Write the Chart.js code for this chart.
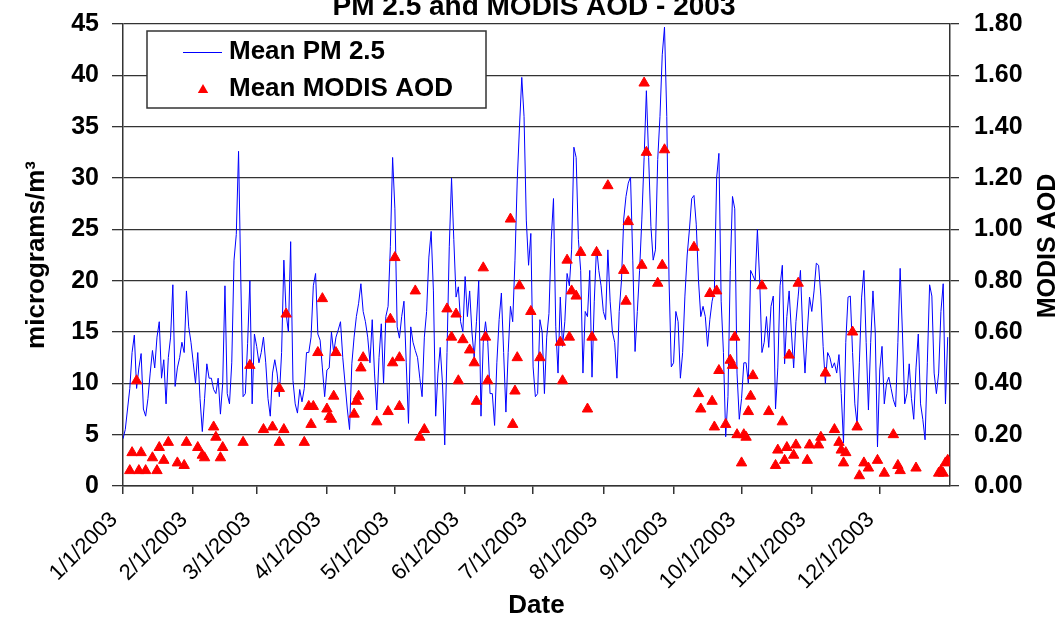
<!DOCTYPE html>
<html>
<head>
<meta charset="utf-8">
<title>PM 2.5 and MODIS AOD - 2003</title>
<script src="https://cdn.jsdelivr.net/npm/chart.js@4.4.0/dist/chart.umd.min.js"></script>
<style>
  html, body { margin: 0; padding: 0; background: #fff; }
  canvas { display: block; }
</style>
</head>
<body>
<canvas id="chart" width="1060" height="619"></canvas>
<script>
// Texts
const chartTitle = 'PM 2.5 and MODIS AOD - 2003';
const leftAxisTitle = 'micrograms/m\u00B3';
const rightAxisTitle = 'MODIS AOD';
const xAxisTitle = 'Date';
const pmLabel = 'Mean PM 2.5';
const aodLabel = 'Mean MODIS AOD';

// X axis: day of year (0 = 1/1/2003), ticks on the first of each month
const monthStarts = [0, 31, 59, 90, 120, 151, 181, 212, 243, 273, 304, 334];
const tickLabels = ['1/1/2003', '2/1/2003', '3/1/2003', '4/1/2003', '5/1/2003', '6/1/2003',
  '7/1/2003', '8/1/2003', '9/1/2003', '10/1/2003', '11/1/2003', '12/1/2003'];

// Daily mean PM 2.5 (micrograms/m3), one value per day from 1/1/2003
const pm25 = [
  4.6, 5.5, 7.5, 9.5, 13, 14.7, 9.5, 11.5, 12.9, 7.5,
  6.8, 8.5, 11, 13.2, 11.5, 14.5, 16, 10.5, 12.3, 8,
  12.5, 14.5, 19.6, 9.7, 11.5, 12.5, 14, 13, 19, 15.5,
  14, 12, 10, 13, 8.5, 5.3, 8.5, 11.9, 10.5, 10.5,
  9.4, 9, 10.5, 7, 10, 19.5, 9, 8, 12, 22,
  24.5, 32.6, 20, 8.7, 9, 13.9, 20, 8, 14.8, 13.6,
  12, 13, 14.5, 12, 8.5, 6.8, 11, 12.3, 11, 8.7,
  13, 22, 16.8, 15, 23.8, 10.3, 8, 7.1, 9.4, 8.2,
  9.5, 13, 13, 14.5, 19.5, 20.7, 14.8, 14.2, 11.5, 8.7,
  11.3, 11.5, 15, 13, 14.5, 15.2, 16, 12.5, 10, 7.5,
  5.5, 11.9, 14.5, 16.5, 17.8, 19.7, 17, 16, 14.5, 12,
  16.2, 11, 7.4, 12.5, 15.8, 10, 16.5, 17.5, 23.3, 32,
  27, 15.5, 14.4, 16.5, 18, 12, 6.1, 15.5, 14, 13.2,
  12.5, 10.5, 8.7, 14.5, 17, 22.3, 24.8, 19, 6.8, 11,
  13.5, 10, 4, 13, 23.3, 30, 24, 18.4, 19.4, 16,
  15, 20.4, 16.5, 19, 15, 12.5, 16, 20, 6.8, 14,
  16, 14, 9, 9, 5.9, 12, 16.2, 18.8, 13, 7.2,
  13, 17.5, 16, 22, 29.8, 35, 39.8, 36, 25.9, 21.5,
  24.6, 11.6, 8.7, 9, 16.2, 15, 9, 14.5, 16.8, 24,
  28, 15.5, 11, 18.4, 13.6, 16, 20.7, 19.5, 23, 33,
  32, 24, 21, 11, 17, 16.5, 21, 10.6, 18, 23.3,
  21, 19.5, 17, 16.2, 23, 18, 15, 14, 10.5, 17,
  20, 26, 28.2, 29.5, 30.1, 22, 13.1, 17, 21, 26,
  32, 38.5, 32, 25.3, 22, 23, 31.8, 36, 42, 44.7,
  36, 20, 11.6, 12, 17, 16, 10.5, 13, 18.5, 22.5,
  25, 28, 28.3, 25.5, 20, 16.5, 17.5, 16.5, 13.6, 16.2,
  18, 19, 30, 32.4, 18, 13, 4.8, 8.7, 21, 28.2,
  27, 11, 6.5, 8.5, 12, 12, 10, 21, 20.5, 20,
  25, 20, 13, 14, 16.5, 13.5, 17.5, 18.5, 7.5, 11.5,
  19.5, 21.5, 11.9, 16.5, 19, 15, 11.5, 16, 18.5, 21,
  15, 11, 15, 18.4, 17, 19, 21.7, 21.5, 18.5, 13.6,
  10, 13, 12.5, 11.5, 12, 11, 12.8, 9, 4.2, 14,
  18.4, 18.5, 13, 8, 6, 12, 18.4, 21, 14, 7.4,
  14, 19, 15, 3.8, 11.3, 13.6, 8, 10, 10.6, 9.5,
  8.4, 7.7, 14, 21.2, 15, 8, 9, 11.9, 8.5, 6.5,
  11.5, 14.8, 8, 6.5, 4.5, 12, 19.6, 18.5, 11, 9,
  11, 17, 19.7, 8, 14.5
];

// Mean MODIS AOD: day of year of each retrieval and its value
const aodDays = [
  3, 4, 6, 7, 8, 10, 13, 15, 16, 18,
  20, 24, 27, 28, 33, 35, 36, 40, 41, 43,
  44, 53, 56, 62, 66, 69, 69, 71, 72, 80,
  82, 83, 84, 86, 88, 90, 91, 92, 93, 94,
  102, 103, 104, 105, 106, 112, 117, 118, 119, 120,
  122, 122, 129, 131, 133, 143, 145, 147, 148, 150,
  153, 155, 156, 159, 160, 161, 171, 172, 173, 174,
  175, 180, 184, 193, 194, 196, 197, 198, 200, 202,
  205, 207, 209, 214, 221, 222, 223, 229, 230, 231,
  236, 238, 239, 252, 254, 255, 259, 260, 261, 262,
  263, 266, 268, 269, 270, 271, 273, 274, 275, 276,
  277, 278, 282, 285, 288, 289, 291, 292, 293, 294,
  296, 297, 298, 302, 303, 307, 308, 310, 314, 316,
  317, 318, 319, 322, 324, 325, 327, 329, 333, 336,
  340, 342, 343, 350, 360, 361, 362, 363, 364
];
const aodValues = [
  0.06, 0.13, 0.41, 0.06, 0.13, 0.06, 0.11, 0.06, 0.15, 0.10,
  0.17, 0.09, 0.08, 0.17, 0.15, 0.12, 0.11, 0.23, 0.19, 0.11,
  0.15, 0.17, 0.47, 0.22, 0.23, 0.38, 0.17, 0.22, 0.67, 0.17,
  0.31, 0.24, 0.31, 0.52, 0.73, 0.30, 0.27, 0.26, 0.35, 0.52,
  0.28, 0.33, 0.35, 0.46, 0.50, 0.25, 0.29, 0.65, 0.48, 0.89,
  0.50, 0.31, 0.76, 0.19, 0.22, 0.69, 0.58, 0.67, 0.41, 0.57,
  0.53, 0.48, 0.33, 0.85, 0.58, 0.41, 1.04, 0.24, 0.37, 0.50,
  0.78, 0.68, 0.50, 0.56, 0.41, 0.88, 0.58, 0.76, 0.74, 0.91,
  0.30, 0.58, 0.91, 1.17, 0.84, 0.72, 1.03, 0.86, 1.57, 1.30,
  0.79, 0.86, 1.31, 0.93, 0.36, 0.30, 0.75, 0.33, 0.23, 0.76,
  0.45, 0.24, 0.49, 0.47, 0.58, 0.20, 0.09, 0.20, 0.19, 0.29,
  0.35, 0.43, 0.78, 0.29, 0.08, 0.14, 0.25, 0.10, 0.15, 0.51,
  0.12, 0.16, 0.79, 0.10, 0.16, 0.16, 0.19, 0.44, 0.22, 0.17,
  0.14, 0.09, 0.13, 0.60, 0.23, 0.04, 0.09, 0.07, 0.10, 0.05,
  0.20, 0.08, 0.06, 0.07, 0.05, 0.06, 0.05, 0.09, 0.10
];

const FONT = '"Liberation Sans", Arial, Helvetica, sans-serif';
const AXIS_COLOR = '#333333';
const PM_COLOR = '#0000ff';
const AOD_COLOR = '#ff0000';

Chart.defaults.font.family = FONT;
Chart.defaults.color = '#000000';

// keep the plot box where the source has it: no extra room for tick labels
function noScalePadding(axis) {
  axis.paddingTop = 0;
  axis.paddingBottom = 0;
  axis.paddingLeft = 0;
  axis.paddingRight = 0;
}

// Title, right axis title and the boxed legend are drawn by hand
const decorations = {
  id: 'decorations',
  afterDatasetsDraw(chart) {
    const ctx = chart.ctx;
    const area = chart.chartArea;
    ctx.save();
    ctx.fillStyle = '#000000';

    // title, cut at the top edge like the source image
    ctx.font = 'bold 28px ' + FONT;
    ctx.textAlign = 'center';
    ctx.textBaseline = 'alphabetic';
    ctx.fillText(chartTitle, 534, 15);

    // right axis title, reading bottom to top
    ctx.save();
    ctx.translate(1048, (area.top + area.bottom) / 2 - 9);
    ctx.rotate(-Math.PI / 2);
    ctx.font = 'bold 25px ' + FONT;
    ctx.textAlign = 'center';
    ctx.textBaseline = 'middle';
    ctx.fillText(rightAxisTitle, 0, 0);
    ctx.restore();

    // legend box
    const bx = area.left + 24, by = area.top + 7, bw = 339, bh = 77;
    ctx.fillStyle = '#ffffff';
    ctx.fillRect(bx, by, bw, bh);
    ctx.strokeStyle = AXIS_COLOR;
    ctx.lineWidth = 1.5;
    ctx.strokeRect(bx, by, bw, bh);

    ctx.strokeStyle = PM_COLOR;
    ctx.lineWidth = 1;
    ctx.beginPath();
    ctx.moveTo(bx + 36, by + 21.5);
    ctx.lineTo(bx + 75, by + 21.5);
    ctx.stroke();

    const tx = bx + 56, ty = by + 59, r = 6;
    ctx.fillStyle = AOD_COLOR;
    ctx.beginPath();
    ctx.moveTo(tx, ty - r);
    ctx.lineTo(tx + r * Math.sin(Math.PI / 3), ty + r / 2);
    ctx.lineTo(tx - r * Math.sin(Math.PI / 3), ty + r / 2);
    ctx.closePath();
    ctx.fill();

    ctx.fillStyle = '#000000';
    ctx.font = 'bold 26px ' + FONT;
    ctx.textAlign = 'left';
    ctx.textBaseline = 'middle';
    ctx.fillText(pmLabel, bx + 82, by + 21);
    ctx.fillText(aodLabel, bx + 82, by + 58);
    ctx.restore();
  }
};

const ctx = document.getElementById('chart').getContext('2d');
const chart = new Chart(ctx, {
  type: 'line',
  data: {
    datasets: [
      {
        label: aodLabel,
        data: aodDays.map((d, i) => ({ x: d, y: aodValues[i] })),
        yAxisID: 'y2',
        showLine: false,
        pointStyle: 'triangle',
        pointRadius: 6,
        pointBackgroundColor: AOD_COLOR,
        pointBorderColor: AOD_COLOR,
        pointBorderWidth: 1,
        order: 0
      },
      {
        label: pmLabel,
        data: pm25.map((v, i) => ({ x: i, y: v })),
        yAxisID: 'y',
        borderColor: PM_COLOR,
        borderWidth: 1,
        pointRadius: 0,
        tension: 0,
        fill: false,
        order: 1
      }
    ]
  },
  options: {
    responsive: false,
    animation: false,
    events: [],
    layout: { padding: { top: 24, left: 0, right: 0, bottom: 0 } },
    plugins: {
      legend: { display: false },
      tooltip: { enabled: false },
      title: { display: false }
    },
    scales: {
      x: {
        type: 'linear',
        position: 'bottom',
        min: 0,
        max: 365,
        afterBuildTicks: (axis) => {
          axis.ticks = monthStarts.map(v => ({ value: v }));
        },
        afterFit: (axis) => {
          axis.height = 133;
          noScalePadding(axis);
        },
        ticks: {
          minRotation: 45,
          maxRotation: 45,
          autoSkip: false,
          padding: 13,
          labelOffset: -9,
          font: { size: 22 },
          callback: (value) => tickLabels[monthStarts.indexOf(value)]
        },
        grid: { drawOnChartArea: false, tickLength: 8, color: AXIS_COLOR, lineWidth: 1.5 },
        border: { display: true, color: AXIS_COLOR, width: 1.5 },
        title: {
          display: true,
          text: xAxisTitle,
          font: { size: 26, weight: 'bold', lineHeight: 1 },
          padding: { top: 0, bottom: 0 }
        }
      },
      y: {
        position: 'left',
        min: 0,
        max: 45,
        afterFit: (axis) => {
          axis.width = 123;
          noScalePadding(axis);
        },
        ticks: {
          stepSize: 5,
          padding: 13,
          font: { size: 25, weight: 'bold' }
        },
        grid: { color: AXIS_COLOR, lineWidth: 1.3, tickLength: 11 },
        border: { display: true, color: AXIS_COLOR, width: 1.5 },
        title: {
          display: true,
          text: leftAxisTitle,
          font: { size: 26, weight: 'bold', lineHeight: 1 },
          padding: { top: 24, bottom: 0 }
        }
      },
      y2: {
        position: 'right',
        min: 0,
        max: 1.8,
        afterFit: (axis) => {
          axis.width = 110;
          noScalePadding(axis);
        },
        ticks: {
          stepSize: 0.2,
          padding: 15,
          font: { size: 25, weight: 'bold' },
          callback: (value) => value.toFixed(2)
        },
        grid: { drawOnChartArea: false, color: AXIS_COLOR, lineWidth: 1.3, tickLength: 9 },
        border: { display: true, color: AXIS_COLOR, width: 1.5 }
      }
    }
  },
  plugins: [decorations]
});
</script>
</body>
</html>
